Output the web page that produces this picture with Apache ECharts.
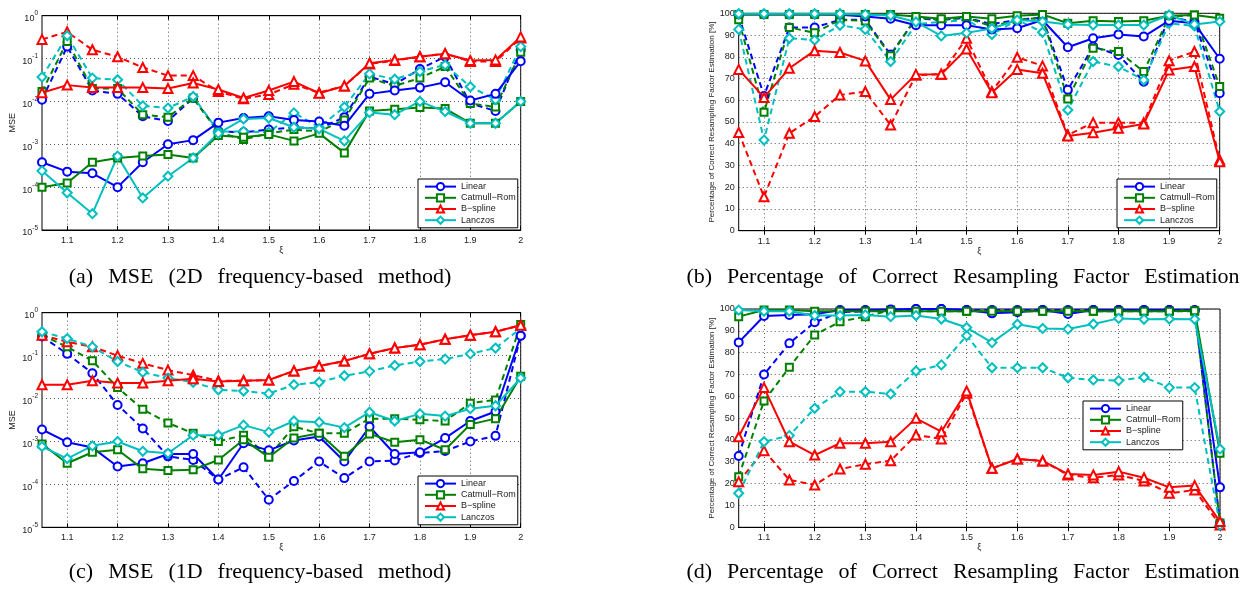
<!DOCTYPE html>
<html><head><meta charset="utf-8">
<script src="https://cdn.jsdelivr.net/npm/echarts@6/dist/echarts.min.js"></script>
<style>html,body{margin:0;padding:0;background:#fff}#c{width:1250px;height:589px}</style>
</head><body><div id="c"></div>
<script>
const XI = ['1.05','1.1','1.15','1.2','1.25','1.3','1.35','1.4','1.45','1.5','1.55','1.6','1.65','1.7','1.75','1.8','1.85','1.9','1.95','2'];
const NAMES = ['Linear','Catmull\u2212Rom','B\u2212spline','Lanczos'];
const CAPTIONS = ['(a) MSE (2D frequency-based method)','(b) Percentage of Correct Resampling Factor Estimation','(c) MSE (1D frequency-based method)','(d) Percentage of Correct Resampling Factor Estimation'];
const Y_NAME_MSE = 'MSE';
const Y_NAME_PCT = 'Percentage of Correct Resampling Factor Estimation [%]';
const X_NAME = '\u03be';

// (a) MSE, 2D method : solid / dashed
const A_LIN   = [3.8e-4,2.3e-4,2.1e-4,1e-4,3.8e-4,1e-3,1.25e-3,3.2e-3,4.1e-3,4.5e-3,3.7e-3,3.4e-3,2.7e-3,1.5e-2,1.8e-2,2.1e-2,2.8e-2,1.05e-2,1.5e-2,8.7e-2];
const A_LIN_D = [1.1e-2,0.19,1.8e-2,1.5e-2,4.5e-3,3.5e-3,1.2e-2,2.0e-3,1.9e-3,2.2e-3,2.5e-3,2.3e-3,4.3e-3,3.8e-2,2.5e-2,5.7e-2,0.11,9e-3,6e-3,0.16];
const A_CR    = [1e-4,1.25e-4,3.8e-4,4.8e-4,5.3e-4,5.8e-4,4.8e-4,1.6e-3,1.45e-3,1.7e-3,1.2e-3,1.8e-3,6.3e-4,6e-3,6.6e-3,7.2e-3,6.8e-3,3.1e-3,3.1e-3,1e-2];
const A_CR_D  = [1.7e-2,0.25,2e-2,2e-2,4.9e-3,4.3e-3,1.2e-2,1.9e-3,1.3e-3,1.8e-3,2.2e-3,2e-3,3.7e-3,3.5e-2,2.3e-2,3.5e-2,6.5e-2,9e-3,7.4e-3,0.14];
const A_BS    = [1.6e-2,2.4e-2,2.1e-2,2.1e-2,2.1e-2,2e-2,2.7e-2,1.9e-2,1.2e-2,1.8e-2,2.9e-2,1.55e-2,2.3e-2,7.8e-2,9.3e-2,0.11,0.13,9e-2,9.3e-2,0.32];
const A_BS_D  = [0.28,0.42,0.16,0.11,6.2e-2,4e-2,4e-2,1.7e-2,1.15e-2,1.45e-2,2.5e-2,1.6e-2,2.3e-2,7.5e-2,9e-2,0.11,0.13,8.5e-2,8.5e-2,0.3];
const A_LZ    = [2.4e-4,7.4e-5,2.4e-5,5.3e-4,5.6e-5,1.8e-4,4.8e-4,1.8e-3,3.9e-3,4.1e-3,2.5e-3,2.3e-3,1.2e-3,5.5e-3,4.9e-3,1e-2,5.8e-3,3.1e-3,3.1e-3,1e-2];
const A_LZ_D  = [3.7e-2,0.34,3.5e-2,3.2e-2,7.9e-3,7e-3,1.3e-2,2e-3,2e-3,1.9e-3,5.4e-3,2.5e-3,7.4e-3,4.4e-2,3.3e-2,5e-2,7.1e-2,2.2e-2,1.1e-2,0.19];

// (b) % correct, 2D method
const B_LIN   = [99.5,99.5,99.5,99.5,99.3,98.5,97.5,94.5,94.5,94.5,92.6,93.1,96.9,84.4,88.5,90.3,89.3,96.6,95.4,79.1];
const B_LIN_D = [99,62,93.5,93.5,97,97,81,97.5,97,98,95,97,98,64.8,84.7,80.8,68.5,98.2,96.2,63.2];
const B_CR    = [99.5,99.5,99.5,99.5,99.5,99.5,99.5,98.5,97.5,98.5,97.5,98.9,99.5,95.4,96.6,96.2,96.6,98.9,99.2,97.7];
const B_CR_D  = [97,54.5,93.5,91,97,96.5,80.5,98,97,98,94,97,98,60.6,83.9,82.4,73.2,98.5,99.2,66.3];
const B_BS    = [74.2,61.3,74.7,82.8,82,78.1,60.3,71.9,72,83.6,63.5,74.2,72.4,43.6,45.1,47.1,49.1,73.9,75.5,31.7];
const B_BS_D  = [45.2,15.6,44.8,52.5,62.4,64,48.6,71.5,72,88.5,64,79.8,75.8,44,49.7,49.7,49.7,78.2,82.4,32.5];
const B_LZ    = [99.8,99.8,99.8,99.8,99.8,99.5,99,96,89.6,91,93,96.9,96.2,94.9,94.6,94.6,94.6,99.2,94.9,96.2];
const B_LZ_D  = [92.6,41.7,88.5,87.7,94.5,92.6,77.8,95,96,97,90.3,97,91.3,55.5,77.8,75.5,69.3,95.4,94.2,54.8];

// (c) MSE, 1D method
const C_LIN   = [1.9e-3,9.6e-4,7.2e-4,2.6e-4,3.1e-4,5.1e-4,5.1e-4,1.3e-4,9.1e-4,6.2e-4,1.05e-3,1.3e-3,3.4e-4,2.2e-3,5.1e-4,5.6e-4,1.2e-3,3e-3,5e-3,0.29];
const C_LIN_D = [0.28,0.11,3.9e-2,7.1e-3,2e-3,4.5e-4,3.7e-4,1.3e-4,2.5e-4,4.4e-5,1.2e-4,3.4e-4,1.4e-4,3.4e-4,3.6e-4,5.4e-4,6e-4,1e-3,1.35e-3,0.29];
const C_CR    = [8.7e-4,3.1e-4,5.6e-4,6.4e-4,2.3e-4,2.1e-4,2.2e-4,3.7e-4,1.1e-3,4.3e-4,1.2e-3,1.55e-3,4.5e-4,1.5e-3,9.6e-4,1.1e-3,6.4e-4,2.5e-3,3.4e-3,3.3e-2];
const C_CR_D  = [0.3,0.16,7.6e-2,1.8e-2,5.6e-3,2.7e-3,1.55e-3,1e-3,1.4e-3,4.5e-4,2.2e-3,1.55e-3,1.55e-3,3.4e-3,3.4e-3,3.2e-3,3e-3,7.8e-3,9.3e-3,0.53];
const C_BS    = [2.1e-2,2.1e-2,2.6e-2,2.3e-2,2.3e-2,2.6e-2,2.9e-2,2.5e-2,2.6e-2,2.7e-2,4.4e-2,5.7e-2,7.5e-2,0.11,0.15,0.18,0.24,0.3,0.36,0.51];
const C_BS_D  = [0.3,0.21,0.16,0.1,6.6e-2,4.6e-2,3.5e-2,2.6e-2,2.6e-2,2.7e-2,4.4e-2,5.7e-2,7.5e-2,0.11,0.15,0.18,0.24,0.3,0.36,0.51];
const C_LZ    = [7.6e-4,4e-4,7.9e-4,1e-3,5.9e-4,5.3e-4,1.4e-3,1.4e-3,2.4e-3,1.65e-3,3e-3,2.8e-3,2.1e-3,4.8e-3,3e-3,4.4e-3,3.9e-3,5.8e-3,6.8e-3,3e-2];
const C_LZ_D  = [0.36,0.25,0.16,7.3e-2,4.1e-2,3e-2,2.4e-2,1.6e-2,1.5e-2,1.3e-2,2.1e-2,2.4e-2,3.4e-2,4.3e-2,5.9e-2,7.3e-2,8.3e-2,0.11,0.15,0.43];

// (d) % correct, 1D method
const D_LIN   = [84.7,96.8,97.3,97.6,99.5,99.5,99.8,100,100,99.5,98,98.5,99.5,97.7,99.5,99.5,99.5,99.5,99.2,18.3];
const D_LIN_D = [32.7,70,84.3,93.9,98.5,99,99.5,100,100,99.5,99.5,99.5,99.5,99.5,99.5,99.5,99.5,99.5,99.5,2];
const D_CR    = [96.5,99.5,99.5,99,99,99,99,99,99,99,99,99,99,99,99,99,99,99,99.2,33.9];
const D_CR_D  = [23.2,57.9,73.3,88.1,94.2,96.5,99.5,99,99,99,99,99,99,99,99,99,99,99,99,2];
const D_BS    = [41.5,64,39.2,33.1,38.5,38.5,39.2,49.9,43.8,62.4,27,31.3,30.4,24.4,24,25.5,22.7,18.3,19.1,2.6];
const D_BS_D  = [20.9,35.1,21.7,19.4,26.7,28.9,30.5,42.3,40.5,61.4,27,31.3,30.4,24,22.7,24,21.2,15.6,17.1,1];
const D_LZ    = [99.5,99,99,97,97,97.3,96.5,97,95.4,91.5,84.6,93,91.1,90.8,93.1,95.7,95.3,95.4,95.3,35.9];
const D_LZ_D  = [15.6,39.2,42,54.5,62.1,62.1,61.1,71.6,74.4,87.8,73.1,73.1,73.1,68.5,67.5,67.2,68.7,64,64,1];

const COLORS = ['#0000ff','#008000','#ff0000','#00bfbf'];
const SYMBOLS = ['emptyCircle','emptyRect','emptyTriangle','emptyDiamond'];
const SYMSIZE = [8,7,9,9];
const FONT = 'Liberation Sans';

const panels = [
  {grid:{left:42,top:15.7,width:478.7,height:214.3}, log:true, solid:[A_LIN,A_CR,A_BS,A_LZ], dashed:[A_LIN_D,A_CR_D,A_BS_D,A_LZ_D], legend:{left:418,top:179}, cap:{x:260,y:277.5,gap:15}},
  {grid:{left:738.7,top:13.3,width:481,height:217.4}, log:false, solid:[B_LIN,B_CR,B_BS,B_LZ], dashed:[B_LIN_D,B_CR_D,B_BS_D,B_LZ_D], legend:{left:1117,top:179}, cap:{x:963,y:277.5,gap:15}},
  {grid:{left:42,top:312.7,width:478.7,height:214.6}, log:true, solid:[C_LIN,C_CR,C_BS,C_LZ], dashed:[C_LIN_D,C_CR_D,C_BS_D,C_LZ_D], legend:{left:418,top:476}, cap:{x:260,y:572.5,gap:15}},
  {grid:{left:738.7,top:309,width:481.3,height:218.3}, log:false, solid:[D_LIN,D_CR,D_BS,D_LZ], dashed:[D_LIN_D,D_CR_D,D_BS_D,D_LZ_D], legend:{left:1083,top:401}, cap:{x:963,y:572.5,gap:15}}
];

const logMinor = [];
for (let e = -5; e < 0; e++) for (let m = 2; m <= 9; m++) logMinor.push(m * Math.pow(10, e));

const oddIdx = (i) => i % 2 === 1;
const grids = [], xAxes = [], yAxes = [], series = [], legends = [], graphics = [];

panels.forEach((p, pi) => {
  grids.push(Object.assign({show:true, borderColor:'#000', borderWidth:1, containLabel:false}, p.grid));
  const xb = xAxes.length;
  xAxes.push({type:'category', gridIndex:pi, position:'bottom', data:XI, boundaryGap:false,
    name:X_NAME, nameLocation:'middle', nameGap:16, nameTextStyle:{fontFamily:FONT,fontSize:9,color:'#222'},
    axisLine:{lineStyle:{color:'#000',width:1}},
    axisTick:{inside:true,length:4,interval:oddIdx,lineStyle:{color:'#000'}},
    axisLabel:{interval:oddIdx,fontFamily:FONT,fontSize:9,color:'#222',margin:6},
    splitLine:{show:true,interval:oddIdx,lineStyle:{color:'#555',type:[1,3],width:1}}});
  xAxes.push({type:'category', gridIndex:pi, position:'top', data:XI, boundaryGap:false,
    axisLine:{lineStyle:{color:'#000'}}, axisTick:{inside:true,length:4,interval:oddIdx,lineStyle:{color:'#000'}},
    axisLabel:{show:false}, splitLine:{show:false}});
  const yb = yAxes.length;
  if (p.log) {
    yAxes.push({type:'log', logBase:10, gridIndex:pi, position:'left', min:1e-5, max:1,
      name:Y_NAME_MSE, nameLocation:'middle', nameGap:25, nameTextStyle:{fontFamily:FONT,fontSize:9,color:'#222'},
      axisLine:{lineStyle:{color:'#000'}}, axisTick:{inside:true,length:4,lineStyle:{color:'#000'}},
      axisLabel:{margin:4, formatter:(v)=>'{b|10}{s|' + Math.round(Math.log10(v)) + '}',
        rich:{b:{fontFamily:FONT,fontSize:9,color:'#222',padding:[6,0,0,0]}, s:{fontFamily:FONT,fontSize:6.5,color:'#222',padding:[0,0,4,0]}}},
      splitLine:{show:true,lineStyle:{color:'#555',type:[1,3],width:1}}});
    yAxes.push({type:'log', logBase:10, gridIndex:pi, position:'right', min:1e-5, max:1,
      axisLine:{lineStyle:{color:'#000'}}, axisTick:{inside:true,length:4,lineStyle:{color:'#000'}},
      axisLabel:{show:false}, splitLine:{show:false}});
    ['left','right'].forEach(pos => yAxes.push({type:'log', logBase:10, gridIndex:pi, position:pos, min:1e-5, max:1,
      axisLine:{show:false}, axisTick:{inside:true,length:2,customValues:logMinor,lineStyle:{color:'#000'}},
      axisLabel:{show:false}, splitLine:{show:false}}));
  } else {
    yAxes.push({type:'value', gridIndex:pi, position:'left', min:0, max:100, interval:10,
      name:Y_NAME_PCT, nameLocation:'middle', nameGap:20, nameTextStyle:{fontFamily:FONT,fontSize:8,color:'#222'},
      axisLine:{lineStyle:{color:'#000'}}, axisTick:{inside:true,length:4,lineStyle:{color:'#000'}},
      axisLabel:{margin:4,fontFamily:FONT,fontSize:9,color:'#222'},
      splitLine:{show:true,lineStyle:{color:'#555',type:[1,3],width:1}}});
    yAxes.push({type:'value', gridIndex:pi, position:'right', min:0, max:100, interval:10,
      axisLine:{lineStyle:{color:'#000'}}, axisTick:{inside:true,length:4,lineStyle:{color:'#000'}},
      axisLabel:{show:false}, splitLine:{show:false}});
  }
  const mk = (data, k, dashed) => ({
    type:'line', name: dashed ? NAMES[k] + ' (dashed)' : NAMES[k], xAxisIndex:xb, yAxisIndex:yb, data:data,
    symbol:SYMBOLS[k], symbolSize:SYMSIZE[k], showAllSymbol:true, z: dashed ? 2 : 3,
    lineStyle:{color:COLORS[k], width:2, type: dashed ? [6,4] : 'solid'},
    itemStyle:{color:COLORS[k], borderColor:COLORS[k], borderWidth:1.6},
    emphasis:{disabled:true}
  });
  for (let k = 0; k < 4; k++) series.push(mk(p.dashed[k], k, true));
  for (let k = 0; k < 4; k++) series.push(mk(p.solid[k], k, false));
  legends.push({left:p.legend.left, top:p.legend.top, orient:'vertical', data:NAMES, selectedMode:false,
    backgroundColor:'#fff', borderColor:'#000', borderWidth:1, borderRadius:0, padding:[3,2,3,6], itemGap:2,
    itemWidth:31, itemHeight:9, textStyle:{fontFamily:FONT,fontSize:9,color:'#222'}});
  // caption: words as rich fragments separated by fixed-width gaps (justified look)
  const words = CAPTIONS[pi].split(' ');
  const capText = words.map(w => '{t|' + w + '}').join('{g| }');
  graphics.push({type:'text', x:p.cap.x, y:p.cap.y, style:{text:capText, fill:'#000', font:'22px "Liberation Serif"', textAlign:'center', textVerticalAlign:'middle',
    rich:{t:{fontFamily:'Liberation Serif', fontSize:22, fill:'#000'}, g:{fontFamily:'Liberation Serif', fontSize:22, width:p.cap.gap}}}});
});

const chart = echarts.init(document.getElementById('c'));
chart.setOption({animation:false, backgroundColor:'#fff', grid:grids, xAxis:xAxes, yAxis:yAxes, series:series, legend:legends, graphic:graphics});
</script></body></html>
